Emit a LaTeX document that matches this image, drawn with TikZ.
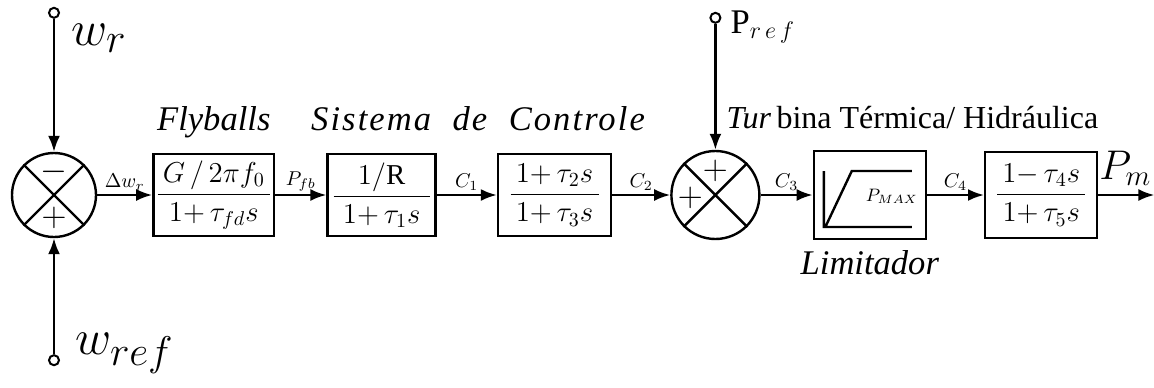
\documentclass[tikz,border=0pt]{standalone}
\usepackage{amsmath}
\usepackage{fontspec}
\setmainfont{Liberation Serif}
\usepackage{tikz}
\usetikzlibrary{arrows.meta,positioning,calc}

% fraction whose bar has a fixed width
\newcommand{\blkfrac}[3]{$\dfrac{\hbox to #1{\hss$#2$\hss}}{#3}$}

\tikzset{
  block/.style={draw, rectangle, line width=1.2pt, minimum height=41pt, inner sep=1pt, font=\Large},
  summer/.style={draw, circle, line width=1.2pt, minimum size=42pt, inner sep=0pt},
  terminal/.style={draw, circle, line width=1pt, minimum size=5pt, inner sep=0pt, fill=white},
  sig/.style={font=\normalsize, inner sep=1.5pt},
  title/.style={font=\LARGE\itshape},
}

\begin{document}
\begin{tikzpicture}[x=0.5pt, y=0.5pt, >={Latex[length=8pt,width=6pt]}, line width=1.2pt]
  \useasboundingbox (0,0) rectangle (1154,387);

  \node [summer] (sum1) at (54,192) {};
  \node [block, minimum width=59pt, right=27.5pt of sum1] (flyb) {\blkfrac{56pt}{G\,/\,2\pi f_0}{1{+}\,\tau_{fd}s}};
  \node [block, minimum width=54pt, right=25.5pt of flyb] (ctrl1) {\blkfrac{48pt}{1/\mathrm{R}}{1{+}\,\tau_1 s}};
  \node [block, minimum width=56.5pt, right=30pt of ctrl1] (ctrl2) {\blkfrac{44pt}{1{+}\,\tau_2 s}{1{+}\,\tau_3 s}};
  \node [summer, minimum size=44pt, right=29pt of ctrl2] (sum2) {};
  \node [block, minimum width=56pt, minimum height=44pt, right=26pt of sum2] (lim) {};
  \node [block, minimum width=56pt, minimum height=43pt, right=28.5pt of lim] (turb) {\blkfrac{44pt}{1{-}\,\tau_4 s}{1{+}\,\tau_5 s}};
  \coordinate [right=28pt of turb] (pm);

  % inputs
  \node [terminal, above=66.5pt of sum1] (wr) {};
  \node [terminal, below=58pt of sum1] (wref) {};
  \node [terminal, above=63pt of sum2] (pref) {};
  \node [font=\Huge, anchor=north west, inner sep=0pt] (wrlbl) at ([xshift=5pt,yshift=-5pt]wr.east) {$w_r$};
  \node [font=\Huge, anchor=base west, inner sep=0pt] (wreflbl) at ([xshift=7pt,yshift=3pt]wref.east) {$w_{ref}$};
  \node [font=\LARGE, anchor=base west, inner sep=0pt] (preflbl) at ([xshift=4pt,yshift=-8pt]pref.east) {$\mathrm{P}_{r\,e\,f}$};

  % summing junctions
  \draw (sum1.north west) -- (sum1.south east) (sum1.north east) -- (sum1.south west);
  \draw (sum2.north west) -- (sum2.south east) (sum2.north east) -- (sum2.south west);
  \node [font=\LARGE] (sum1m) at ($(sum1.center)+(0,23)$) {$-$};
  \node [font=\LARGE] (sum1p) at ($(sum1.center)+(0,-23)$) {$+$};
  \node [font=\LARGE] (sum2t) at ($(sum2.center)+(0,24)$) {$+$};
  \node [font=\LARGE] (sum2l) at ($(sum2.center)+(-25,-3)$) {$+$};

  % limiter curve
  \draw ($(lim.center)+(-46,24)$) -- ($(lim.center)+(-46,-33)$)
        ($(lim.center)+(-47,-32)$) -- ($(lim.center)+(42,-32)$)
        ($(lim.center)+(-44,-31)$) -- ($(lim.center)+(-18,24)$) -- ($(lim.center)+(42,24)$);
  \node [font=\small, inner sep=0pt] (pmax) at ($(lim.center)+(22,-1)$) {$P_{MAX}$};

  % titles
  \node [title, anchor=base] (flytxt) at ([yshift=11pt]flyb.north) {Flyballs};
  \node [title, anchor=base] (ctrltxt) at ($(ctrl1.north)!0.5!(ctrl2.north)+(10,22)$) {\addfontfeature{LetterSpace=6}Sistema\ \ de\ \ Controle};
  \node [font=\fontsize{16}{19}\selectfont, anchor=base west, inner sep=0pt] (turbtxt) at ($(sum2.north)+(10,21)$) {\textit{Tur}\,bina Térmica/ Hidráulica};
  \node [title, below=1pt of lim] (limtxt) {Limitador};

  % signals
  \draw [->] (wr) -- (sum1);
  \draw [->] (wref) -- (sum1);
  \draw [->] (pref) -- (sum2);
  \draw [->] (sum1) -- (flyb) node [midway, above, sig] {$\Delta w_r$};
  \draw [->] (flyb) -- (ctrl1) node [midway, above, sig] {$P_{fb}$};
  \draw [->] (ctrl1) -- (ctrl2) node [midway, above, sig] {$C_1$};
  \draw [->] (ctrl2) -- (sum2) node [midway, above, sig] {$C_2$};
  \draw [->] (sum2) -- (lim) node [midway, above, sig] {$C_3$};
  \draw [->] (lim) -- (turb) node [midway, above, sig] {$C_4$};
  \draw [->] (turb) -- (pm);
  \node [font=\huge, anchor=base east, inner sep=0pt] (pmlbl) at ([xshift=-1pt,yshift=8pt]pm) {$P_m$};
\end{tikzpicture}
\end{document}
